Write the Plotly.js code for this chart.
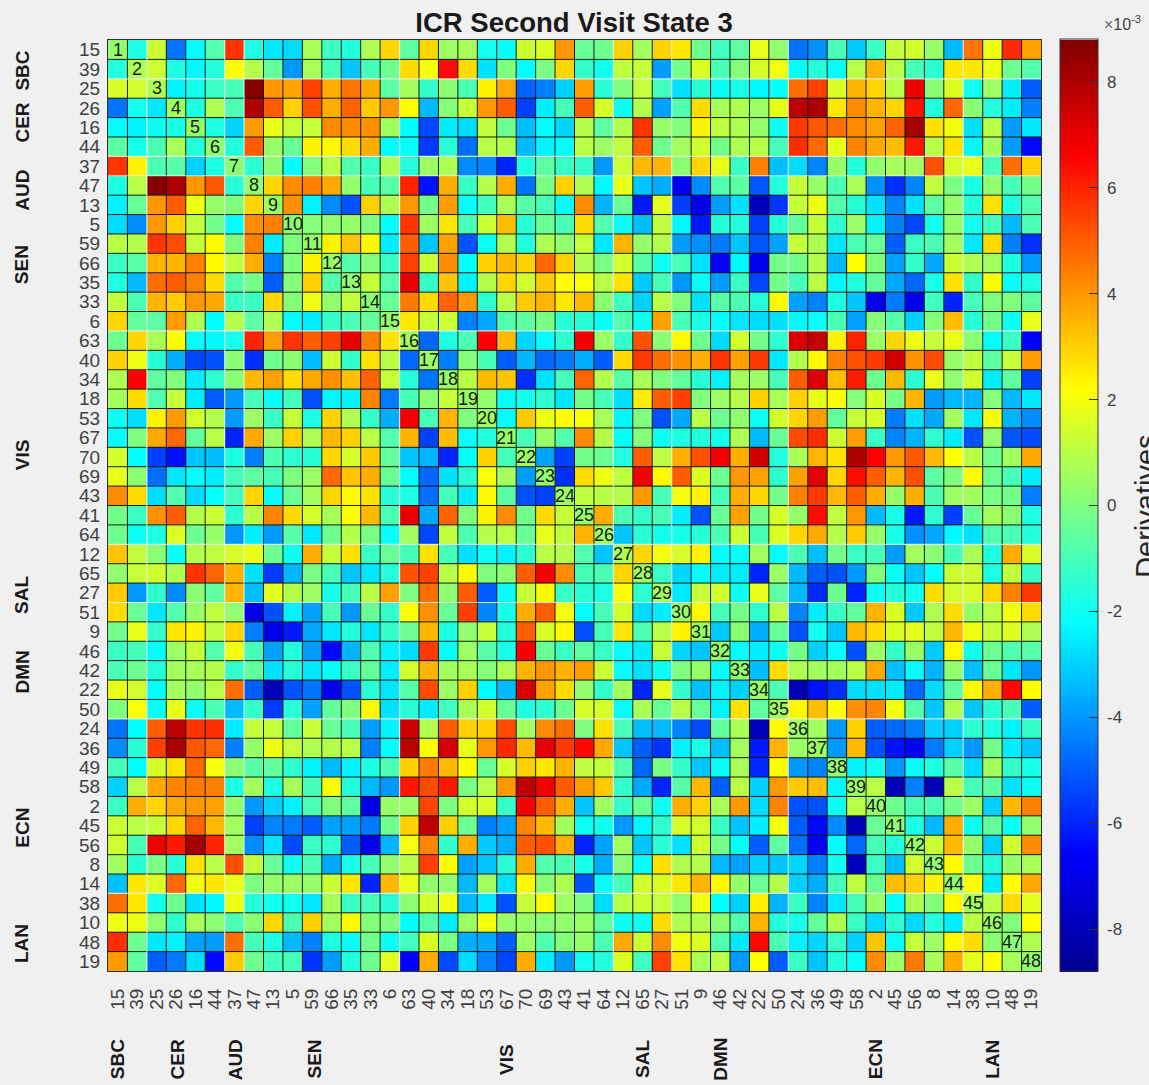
<!DOCTYPE html>
<html>
<head>
<meta charset="utf-8">
<script src="https://cdn.plot.ly/plotly-3.0.1.min.js"></script>
<style>html,body{margin:0;padding:0;background:#f0f0f0;overflow:hidden}</style>
</head>
<body>
<div id="chart" style="width:1149px;height:1085px"></div>
<script>
const roiLabels = [15,39,25,26,16,44,37,47,13,5,59,66,35,33,6,63,40,34,18,53,67,70,69,43,41,64,12,65,27,51,9,46,42,22,50,24,36,49,58,2,45,56,8,14,38,10,48,19];
const moduleEnds = [2,6,7,15,26,29,35,44];
const moduleNames = ["SBC","CER","AUD","SEN","VIS","SAL","DMN","ECN","LAN"];
const moduleLeftPos = [2.07,4.75,8.26,12.1,21.9,29.1,33.1,41.1,47.1];
const moduleBottomPos = [1.0,4.05,7.08,11.1,21,28,32,40,46];

const row01 = [0.3,-1.7,1.3,-4.6,-2.2,-0.8,5.7,-1.7,-2.6,-2.8,0.7,-1.2,-1.6,0.8,2.9,-0.6, 2.9,0.5,0.7,-1.9,-2.1,1.3,1.6,4,-0.4,-0.3,3,0.6,3,2.6,-0.3,-1.1, -0.6,1.8,0.3,-4.6,-4.1,-1,-3.1,-1.2,1.2,1.4,0.4,-3.4,4.6,1.9,5.9,3.8];
const row02 = [-1.6,0.8,1.3,-1.7,-2.3,-1.6,2.2,0.9,-0.5,-4,0.7,-1,-3.2,-1,-0.3,2.8, 2.1,6.4,2.8,-2.7,0,-2.2,-0.1,2.9,-1.3,-1.9,1.1,1.2,-3.9,-0.2,1.6,-0.9, 0.1,1.5,2,-2.2,-1.5,-2.2,1,3.5,1,-1,-1.5,2.6,2.6,1.9,-0.3,-0.8];
const row03 = [1.5,1.4,0.8,-2.4,-1.9,-1.2,-1,8.7,4,3.8,5.5,3.6,4.6,3.6,-0.6,0.6, -1.3,0.2,-0.9,2.4,3.7,-4.9,-4.4,-3,3.9,-1.5,0,1.2,-1.1,-2.7,-1.5,-2.1, -1.8,-2.3,-2.1,4.7,5.5,1.6,3.5,2.9,1,6.9,0.2,1.6,-1.9,0.5,-2.5,-5];
const row04 = [-4.6,-1.9,-2.6,0.5,-1.7,0.8,-0.9,8,5,3,5.2,3.6,4.9,3.1,4,2.2, -3.4,0.1,1.2,4,5,-5.5,-2.5,-1,5,1.5,-2,0.9,-3.8,-0.8,2.8,0.7, 0.8,0.5,1.8,7.8,8,2.6,4.2,3.5,2.9,6.3,-1.6,4.8,0.2,-1.6,-2.5,-4.4];
const row05 = [-2.2,-2.4,-2,-1.8,0.4,-1.7,-2.9,3.9,1.8,1.2,1.2,4.2,4.2,4.1,0.6,-2.2, -5.4,-2.5,-2.8,1.1,-0.3,-3.3,-2.2,-2.9,0.9,-0.6,0.9,5.7,0.4,0,2.4,1.1, 0.8,0.4,-2,5.6,5.1,4.7,4.2,3.8,4.9,8.2,2.7,2,-2.7,1,-3.9,-2.6];
const row06 = [-0.6,-1.8,-0.9,0.7,-1.6,0.3,-1.6,5,0.4,-0.4,2.4,2.3,2.8,3.6,-2.2,-2.1, -5.6,-1.5,-4.7,1,0.9,-3.4,-2.4,-2.2,1,0.5,1.1,5,-0.3,0.6,1.4,-0.2, 0.8,1,-1,5.8,4.8,1.8,4.3,3.7,3.3,6.2,1,2.7,-2.3,0.6,-3.9,-6.5];
const row07 = [5.7,2.4,-0.9,-0.7,-3,-1.7,0.2,-1.4,0.2,-2.2,0.1,1,-0.8,-1.2,0.8,-1.6, 0.5,0.8,-4.2,-4.3,-6,-1.7,-0.6,-1.2,-1.3,-4,1.3,3.4,3.5,0.2,2.9,1.8, -1.2,4.4,-3.3,-2.8,-4.3,0.4,-1.6,0.3,0.7,0.6,5.2,1.5,1.8,-1,4.7,3];
const row08 = [-1.7,1,8.7,8,4,5.1,-1.5,0.3,2.9,4.2,4.4,3.7,0.3,-1,-0.7,6, -6.3,3.6,-1.2,0.9,3.6,-4.6,-0.1,3,0.8,-2.3,1.8,-3.2,-3.6,-7,-4.2,-0.8, -0.6,-5.1,-1.6,1.2,0.4,-0.9,0.7,-4.1,-5.8,-4.3,1.1,-0.1,-1.7,0.3,-1,-0.2];
const row09 = [-2.4,-0.4,4,5,1.9,0.4,0,2.9,0.5,4.1,-2.4,-4.2,-5.2,3,0.8,4, -0.2,3.9,-2.2,-1.1,0.7,-0.7,-1,-2.2,4.2,-3.5,-0.4,-6.2,1.7,-5.5,-7,-3.9, -2.7,-8,-5.7,1.2,1.9,-0.8,-1.5,-2.7,-4.3,-2.7,-0.6,0.4,-1.6,2.7,-1.7,-0.8];
const row10 = [-2.8,-4.2,4,3,1.2,-0.2,-2.2,4.2,4.4,0.2,0.1,0.3,0.4,0,-2.2,5.7, 0.5,2.6,-1,1.3,3.3,-1.5,-0.4,-0.9,2.8,-0.8,-2,-3.3,1.1,-2.3,-6.2,-1.6, -1.6,-5.5,-1.6,-0.5,1.2,-1.4,0.5,-2.4,-4.4,-5.4,-1.9,0.4,-1.9,-1,-3.4,-0.9];
const row11 = [1,0.9,5.7,5.3,1.2,2.3,0,4.4,-2.5,0,0.4,2.4,3.2,2.3,-2.5,5, -3.2,3.8,-5.2,-2,0.9,-1.6,0.8,0.3,1.2,-2.6,3.5,0.4,0.9,-3.9,-4.1,-4.5, -3.2,-5.1,-3.8,1.2,0.8,-2.6,-0.9,-0.4,-5,-1.2,-0.9,0.6,-2.6,2.8,-4.4,-5.8];
const row12 = [-1.2,-0.7,3.5,3.5,4.4,2.3,1.1,3.6,-4.4,0,2.4,0.4,-0.8,0.1,-1.2,5.5, 1.3,4.2,-2.2,3,3.4,3,4.8,3,0.8,-0.1,1.4,-0.7,-2,-1,-2.7,-6.8, -2.3,-7,-0.2,-0.2,0.9,-3.4,2.2,0,-3.8,-1.3,-3.7,1.3,0.8,0.6,-1.7,-4];
const row13 = [-1.7,-3.4,4.7,5,4.4,2.8,-0.8,-0.2,-5,0.1,3,-0.8,0.3,1.2,-0.8,7, -1.3,3.2,-2.4,0.9,2.9,1.4,3.1,2.2,2.1,1,2.7,-3.1,-1,-4,-2.1,-3.9, -1.2,-5.4,-0.2,-1,1,-2.3,-1.6,-0.5,-3.7,-4.8,-1.8,2.7,-1.3,2.2,-2.1,-1.7];
const row14 = [1.1,-0.9,3.5,3.1,4,3.7,-1.2,-1.2,2.9,0.1,1.9,0.3,1.2,0.2,-0.4,4.5, 2.8,4.9,4,-1.4,1,3.1,3.5,2.6,3.4,0.2,-1.1,-3,1,0,-2.7,-0.7, -0.9,-1.6,2.3,-3.8,-4.4,-1.7,-3.2,-7,-4.5,-7,-1.1,-6,-1,0,0,-0.6];
const row15 = [2.9,-0.5,-0.6,3.9,0.8,-2.2,0.9,-0.6,0.8,-2.2,-2.5,-1.3,-0.9,-0.5,0.4,2.6, 1.2,1.3,-4.4,-3.7,-0.8,-0.6,-0.1,-1.5,-1.5,-2.1,-0.8,-2,3.8,-1,-1.8,-2.2, -2.6,-2.8,-2.7,-2.3,-2.1,-0.9,-3.8,0.1,-0.7,-3,0.1,3.3,-1.5,-0.2,-2,1.8];
const row16 = [-0.3,2.9,0.7,2.2,-2.2,-2.3,-1.8,6,3.9,5.7,5,5.5,7,4.4,2.7,0.6, -4.8,-1.7,-0.9,6.6,3.4,-2.9,-2.2,-1.4,6.8,0.5,-1.3,5.2,0.2,2.3,-0.3,-2.8, 1.4,-0.2,-1.4,7.2,7.6,2.4,6,0.5,2.9,1.9,1.2,1.8,0.2,-2.2,-1.2,-6.6];
const row17 = [3,1.9,-1.5,-3.6,-5.4,-5.2,0.2,-5.8,-0.3,0.2,-3.3,1.3,-1.3,2.7,1,-4.8, 0.5,-4.4,0.1,-1,-5,-3.5,-4.8,-4.5,-3.6,-5,2.8,5.6,4.7,4.1,3.6,5.7, 3.8,5.6,-2.6,0.9,2.3,4.4,5.2,5.6,7.4,4.1,5.3,0.4,1.1,-0.6,1.2,3.9];
const row18 = [0.8,6.6,-0.6,0,-2.5,-1.4,0.2,3.4,3.8,2.8,3.7,4.1,3.3,4.9,1.2,-1.6, -4.6,0.4,1,3.4,3.2,-5.8,-2.7,-1,4.9,0.9,-0.7,0.7,0,-0.5,-1.5,-2.4, 0.6,0.5,-1,5,7.2,3.3,6.1,-0.3,3.4,-1.4,1.8,0.3,1.4,-2.5,-0.6,-5.5];
const row19 = [0.6,2.8,-0.8,1.2,-2.5,-5,-4,-1,-2.1,-1,-5.2,-2.3,-2.4,4.3,-4.5,-1, 0.2,1.2,0.4,0.3,-2.2,-1.9,-1.4,-2.6,-0.2,-1,-2.7,2.5,5,5.5,0,0.5, 0.9,3,0.7,3,1.8,2.2,0.1,1.5,-0.1,3.5,-3.9,-3.4,-3.5,0.1,-3.4,-2.6];
const row20 = [-2,-2.8,2.4,3.9,1.4,0.9,-3.9,0.5,-1.2,1.2,-1.7,3,0.8,-1.3,-3.6,6.8, -1,3.5,0,0.5,-2.2,3.1,1.9,2.2,2.1,0.7,-2.3,0,-5.2,-3.7,1,-0.3, 0.3,-2,1.4,2.9,3.9,-0.5,1.2,1.5,-4.5,-2.7,-3.7,0.6,-2.6,2,-3.5,-4.2];
const row21 = [-2.2,0,3.7,4.8,-0.5,1,-6,3.7,0.5,3,0.8,3.4,3,1,-0.8,3.5, -5.5,3.3,-2.1,-1.6,0.4,-1,0.4,-0.8,4.2,0.9,-2.2,0.1,-2,-1.7,-1.6,-1.9, 0.8,-3.4,-0.4,5.3,5.8,1.3,3.9,-1.2,-4.3,-3.5,-1.4,-2.5,-5.2,0.3,-5.1,-5.3];
const row22 = [1.5,-2.2,-5.5,-6.3,-3.2,-3.3,-1.7,-4.4,-0.9,-1.4,-1.5,2.9,1.5,3.1,-0.5,-3.2, -3.5,-6,-2.1,3,-1,0.5,-3.8,-5.5,-0.2,-0.4,-1.6,5,1.1,3.6,5.2,6.7, 3.6,7.4,-1.6,0.7,3.5,2.7,8,6.6,4,5.1,3.4,2.2,1,-0.3,0.6,3.7];
const row23 = [1.8,0.2,-4.7,-2.6,-2.2,-2.5,-1,-0.6,-1,0,0.5,4.8,3.2,3.6,-0.4,-2.2, -4.8,-2.7,-1.5,2.1,0.6,-3.9,0.3,-5.8,2.8,1.9,1.1,6.8,2.3,5,1.6,-0.3, 4,3.8,-1.4,3.8,7.1,2.9,6.4,5,3.5,5.2,-0.6,0,2.2,-0.3,-1,-2.5];
const row24 = [4.2,2.8,-2.8,-0.8,-2.8,-2.1,-1,2.9,-2.2,-0.4,0.6,2.9,2.3,2.7,-1.5,-1.7, -4.7,-1,-2.5,2.3,-0.7,-5.2,-5.5,0.5,1.1,1,0.9,4,-1,2,2.4,-1, 3.6,2.9,-0.2,4.4,5.6,3.4,5,3.6,0.4,3.6,-0.9,0.5,0.6,-0.1,-0.2,-4.4];
const row25 = [-0.2,-1.2,4.1,5,0.9,1.3,-1.4,1,4.3,2.8,1.5,0.7,2.2,3.4,-0.9,7, -3.7,4.9,0,2.4,4.2,-0.2,2.8,1.2,0.4,3.6,-0.9,-1.3,-1,-2.5,-5.2,-0.4, 3.8,-0.2,1.5,0.4,6.4,1.1,4,-3.4,-1.8,-6.2,-1.4,-5.5,-0.4,0.6,0.2,-1.7];
const row26 = [-0.3,-2,-1.7,1.6,-0.3,0.4,-4,-2.5,-3.9,-0.7,-2.6,-0.3,0.9,-0.1,-2.1,0.6, -5.4,1.1,-0.9,0.9,1,-0.4,1.8,1.1,3.5,0.5,-3.2,-1.5,-1.9,-1.8,-1.5,-0.9, 1.3,-1,1.6,2.9,3.7,0.9,3.1,0.4,-1.8,-4.1,-3.7,-2.3,-2.7,-0.8,-0.9,-1.6];
const row27 = [3.2,1.1,0.2,-2.1,0.9,1.1,1.5,1.8,-0.3,-2,3.6,1.2,2.7,-1.2,-0.4,-1, 2.7,-1,-2.7,-2,-2.4,-1.4,1,0.9,-0.8,-3.2,0.8,2.9,2,1.5,2.4,-2.2, -2.1,0.6,-2.2,-0.9,-3.3,-0.2,-1.2,-1,-3.9,0.6,0.2,-1,0.7,-1.7,3.6,1.5];
const row28 = [0.3,1.2,1.4,0.8,5.7,4.9,3.5,-2.7,-5.6,-3.5,-0.1,-1,-3.2,-2.6,-1.6,5.2, 5.5,1,2.3,0,0.2,5,6.7,4.2,-1,-0.9,2.9,0.5,-1.2,-2.9,-2.2,-2.5, -2.5,-6,0.5,-3.4,-5,-5.2,-4,0,-2.1,-3.2,-2.2,1.3,1.3,-1.7,1.1,-1.3];
const row29 = [3.1,-4,-1.4,-4.2,0.2,-0.6,3.5,-3.3,1.7,0.9,0.5,-1.8,-1,1,3.8,0, 4.7,0.3,5,-5,-2.1,1.2,2.3,-1.2,-1.5,-1.7,2.2,-1.4,0.6,-2.6,1.2,1.4, -2,1.8,-0.6,-3.4,-5.9,-0.3,-6,-2,-1.6,-1.9,2.8,1.4,1.5,2.9,4.4,5.6];
const row30 = [2.8,-0.4,-2.6,-0.8,0.4,1.1,0.3,-7,-5.2,-2.4,-3.8,-1,-4,-0.4,-1.3,2.1, 4.1,-0.4,5.5,-4.3,-1.8,3.6,5,2,-2.2,-1,1.4,-2.8,-2.5,0.4,2.3,-1, -0.2,-1.4,1,-4.3,-2.5,-1.2,-0.5,3.5,1.6,-3.1,0.8,2.8,0.4,1,2,2.8];
const row31 = [-0.2,1.8,-1.3,2.6,2.4,1.1,2.9,-4.4,-7,-6.2,-3.7,-2.6,-1.6,-2.6,-1.3,-0.3, 3.5,-1.7,0.3,1.2,-1.6,5,1.5,2.3,-5.2,-1,2.6,-0.9,1,2.4,0.4,-3.1, 0.2,-3.6,-0.4,-5.2,-1.9,-3.2,3.4,2.8,1.6,1.7,1.1,3.4,1.9,1.2,1.6,0.8];
const row32 = [-1.2,-1,-2.2,0.5,1.2,-0.8,1.9,-1,-3.8,-1.6,-3.9,-6.5,-3.5,-0.8,-2.4,-2.8, 5.6,-2.1,0.5,-0.7,-1.8,6.7,-0.4,-1.2,-0.6,-1.2,-2.2,-2.5,1.2,-2.9,-3.2,0.4, -2.2,-2.5,-2,-0.2,-3,-2.2,-5.2,0.5,-1.3,0.4,-3.1,2.3,-1.9,-0.3,-0.8,-0.7];
const row33 = [-0.9,-0.3,-1.6,0.6,0.7,0.9,-1.3,-0.5,-2.7,-1.5,-2.6,-2.1,-1.2,-0.5,-2.5,1.4, 3.5,0.6,0.7,0.1,0.8,3.5,4,3.5,3.9,1.3,-2.2,-2.7,-2,0,0.4,-2.2, 0.3,-3.3,2.8,0.8,0.6,0.6,1,3.7,-3.3,-2.2,-3.5,0.3,-3.3,-0.4,-2.6,-4];
const row34 = [1.8,1.4,-2.2,0.6,0.3,1,4.7,-5,-8,-5.2,-4.6,-7,-5.2,-1.5,-2.6,-0.7, 5.3,0.5,3,-2.2,-3.4,7.3,3.8,2.8,0.3,-1.3,0.6,-6,1.7,-1.3,-3.3,-2.4, -3,0.4,-0.9,-8,-6.3,-5.8,-2.8,-2.7,-2.5,-4.8,-2.8,-0.5,2.3,3.6,6.5,2.2];
const row35 = [0,2.1,-2.1,1.8,-2.1,-0.9,-3.4,-1.3,-5.6,-1.5,-3.8,-0.5,0,2.3,-2.7,-1.5, -2.5,-1.1,0.7,1.4,-0.4,-1.7,-1.4,-0.3,1.5,1.5,-2.2,0.7,-0.4,1,-0.4,-2.4, 2.7,-0.6,0.6,2.3,3.3,2.2,4.1,4.3,2,-0.7,-3.2,0.8,-3.2,-1.5,-1,-5];
const row36 = [-4.6,-2.2,5,7.8,5.7,5.8,-2.5,1.2,1.2,-0.5,1.2,-0.4,-1,-3.9,-2.4,7.4, 0.9,5,3,3,5.3,0.6,4.2,4.7,0,2.7,-1,-3.3,-3.4,-4.3,-5.3,-0.5, 0.7,-8,2.3,0.5,0.6,-4,3,-5,-4.8,-4.4,-3,-3,-1.4,-1.7,-2.4,-1.3];
const row37 = [-4.2,-1.5,5.5,8,5.1,4.8,-4.4,0.4,1.9,1.2,0.8,0.9,1,-4.4,-2.2,7.8, 2.2,7.3,1.8,4,5.9,3.4,7,5.6,6.5,3.7,-3.2,-5,-5.7,-2.4,-1.8,-3.3, 0.6,-6.2,3.5,0.5,0.5,-4,3.4,-5.2,-6.3,-6.6,-4.5,-3,-4,-0.2,-2.5,-3.2];
const row38 = [-1,-2.2,1.5,2.7,4.8,2,0.2,-0.7,-0.5,-1.4,-2.4,-3.4,-2.4,-1.7,-0.9,3, 4.5,3.4,2.2,-0.4,1.5,3,2.6,3.5,1.1,1.2,-0.8,-4.8,-0.1,-1.3,-3.2,-2.1, 0.7,-5.9,2.2,-4,-4.3,0.3,-2.4,-1.9,-4,-2.1,-1.7,-0.7,-2.8,0.6,-1.3,-1.8];
const row39 = [-3,1,3.7,4.3,4.5,4.4,-1.7,0.6,-1.7,0.7,-1,2.2,-1.6,-3.4,-4,6.2, 5.3,6.2,-0.1,1,4,7.7,6.8,5,3.9,3.1,-1.3,-3.7,-6,-0.7,3.4,-5, 1,-3,4,3.1,3.3,-2.3,0.5,1,-8,-4.4,-8,1,-1,-0.6,-2.7,-2];
const row40 = [-1.2,3.6,2.9,3.7,4,3.8,0.3,-4,-3,-2.4,-0.9,0,-0.6,-7,0.4,0.5, 5.4,0,1.4,1.5,-1.3,6.7,5,3.6,-3.2,0.5,-1.3,-0.4,-2,3.6,3,0.7, 4,-2.8,4.3,-5.2,-5.2,-2,1,0.3,-0.3,-1,-1,-0.2,0.5,-3,3.4,4.4];
const row41 = [1.3,1,1.2,2.9,4.9,3.4,0.6,-5.5,-4.3,-4.5,-5,-3.8,-3.8,-4.5,-0.3,3, 7.7,3,-0.3,-4.4,-3.8,4.3,3.4,0.6,-2,-1.9,-4,-2.3,-1.4,1.5,1.4,-1.2, -3.2,-2.5,2,-5,-6.5,-4.2,-8,-0.4,0.3,-1.7,-3.4,3.6,-2,-0.5,-2,0.3];
const row42 = [1.4,-1,6.9,6.2,8.2,6,0.6,-4.2,-2.7,-5.3,-1.2,-1.4,-5,-7,-3.5,2, 4.3,-1.3,3.6,-3.1,-3.6,5,5.2,3.6,-6,-3.8,0.6,-3.2,-1.5,-2.7,1.4,-0.2, -2.2,-5,-0.6,-4.7,-6.8,-2.2,-4.8,-1,-1.6,0.4,1.3,3.4,0.4,-3,1.4,4.2];
const row43 = [0.6,-1.5,-0.1,-1.5,2.7,1,5.2,1.1,-0.4,-1.9,-0.9,-3.7,-1.8,-1,0.3,1, 5.5,2.2,-3.8,-3.2,-1.5,3.6,-0.8,-0.9,-1.8,-3.6,0.2,-2.2,2.7,0.8,0.9,-3.4, -3.8,-3,-3.2,-2.9,-4.4,-2,-8,-1.2,-3.3,1.4,0.3,2.3,-0.3,-1.6,0.4,0.7];
const row44 = [-3.3,2.6,1.6,4.8,2,2.6,1.8,0,0.4,0.5,0.4,1.3,2.6,-6,3.4,1.8, 0.3,0.3,-3.4,0.6,-2.7,2.3,0.2,0.8,-5.2,-2.1,-1,1.4,1.6,2.6,3.5,2.3, 0.4,-0.4,0.9,-3,-3.6,-1,1.1,-0.3,3.3,3,2.4,0.3,2.2,-2.5,2.2,3.7];
const row45 = [4.7,2.6,-1.9,-0.3,-2.7,-2.3,1.9,-1.6,-1.9,-1.9,-2.6,0.7,-1.2,-1,-1.5,0.2, 1.4,1.9,-3.4,-2.6,-5.2,1.2,2.3,0.5,0,-2.8,1,1.3,1.2,0.3,2,-2.2, -3,2.5,-3.5,-1.2,-4.3,-2.6,-1,0.4,-2.2,0.8,0,2.3,0.6,1,2.8,1.7];
const row46 = [1.9,1.9,0.3,-1.4,0.7,0.2,-0.9,0.2,2.9,-0.9,3,0.6,2.3,0.1,0,-2.2, -0.7,-2.5,0.5,2,0.4,0.4,0.2,0.3,0.5,-0.5,-2,-2,2.8,0.8,0.9,0.2, -0.8,3.5,-1.6,-1.8,-0.5,0.8,-1.2,-2.8,-1.4,-2.8,-1.6,-2.5,1,0.4,0.1,2.2];
const row47 = [5.8,-0.3,-2.6,-2.4,-3.8,-3.9,4.7,-1,-1.7,-3.4,-4.4,-1.7,-2.1,-0.2,-2,-1.1, 1.6,-0.1,-3.6,-3.7,-5,0.5,-0.8,0.1,0.4,-0.9,3.7,1.3,4.2,1.9,1.6,-0.8, -2.6,6.5,-0.9,-2.4,-2.9,-1.2,-3,3.2,-2.1,1.2,0.5,2.3,2.8,0.2,0.2,0.8];
const row48 = [3.9,-0.6,-5,-4.5,-2.7,-6.5,3.1,-0.3,-1.1,-1,-5.7,-3.9,-1.6,-0.3,1.7,-6.6, 3.6,-5.3,-2.8,-4.3,-5.4,3.6,-2.5,-4,-1.9,-1.6,1.6,-1.1,5.5,2.7,0.7,1, -3.9,2.2,-5,-1.2,-3.2,-1.6,-2.1,4.2,0.5,4.5,0.7,3.6,1.7,2.2,0.7,0.3];

const z = [row01,row02,row03,row04,row05,row06,row07,row08,row09,row10,row11,row12,row13,row14,row15,row16,row17,row18,row19,row20,row21,row22,row23,row24,row25,row26,row27,row28,row29,row30,row31,row32,row33,row34,row35,row36,row37,row38,row39,row40,row41,row42,row43,row44,row45,row46,row47,row48];

const n = roiLabels.length;
const idx = roiLabels.map((_, i) => i + 1);
const jet = [[0,'rgb(0,0,143)'],[0.125,'rgb(0,0,255)'],[0.375,'rgb(0,255,255)'],[0.625,'rgb(255,255,0)'],[0.875,'rgb(255,0,0)'],[1,'rgb(128,0,0)']];
const font = 'Liberation Sans, Arial, sans-serif';

const shapes = [];
for (let k = 1; k < n; k++) {
  if (moduleEnds.includes(k)) continue;
  const line = {color:'rgba(10,20,10,0.95)', width:1};
  shapes.push({type:'line', xref:'x', yref:'paper', x0:k+0.5, x1:k+0.5, y0:0, y1:1, line});
  shapes.push({type:'line', xref:'paper', yref:'y', y0:k+0.5, y1:k+0.5, x0:0, x1:1, line});
}
moduleEnds.forEach(k => {
  const line = {color:'rgba(235,240,235,0.85)', width:1.2};
  shapes.push({type:'line', xref:'x', yref:'paper', x0:k+0.5, x1:k+0.5, y0:0, y1:1, line});
  shapes.push({type:'line', xref:'paper', yref:'y', y0:k+0.5, y1:k+0.5, x0:0, x1:1, line});
});

const annotations = [];
idx.forEach(i => annotations.push({x:i, y:i, xref:'x', yref:'y', text:String(i), showarrow:false,
  font:{family:font, size:18, color:'#1a1a1a'}, xanchor:'center', yanchor:'middle'}));
moduleNames.forEach((name, i) => {
  annotations.push({xref:'paper', yref:'y', x:-0.092, y:moduleLeftPos[i], text:'<b>'+name+'</b>', textangle:-90, showarrow:false,
    font:{family:font, size:19, color:'#1a1a1a'}, xanchor:'center', yanchor:'middle'});
  annotations.push({xref:'x', yref:'paper', x:moduleBottomPos[i], y:-0.095, text:'<b>'+name+'</b>', textangle:-90, showarrow:false,
    font:{family:font, size:19, color:'#1a1a1a'}, xanchor:'center', yanchor:'middle'});
});
annotations.push({xref:'paper', yref:'paper', x:1.0873, y:1.0185, text:'<span style="color:#666">×</span>10<sup>-3</sup>', showarrow:false,
  font:{family:font, size:16, color:'#404040'}, xanchor:'center', yanchor:'middle'});
annotations.push({xref:'paper', yref:'paper', x:1.113, y:0.499, text:'Derivatives', textangle:-90, showarrow:false,
  font:{family:font, size:29, color:'#262626'}, xanchor:'center', yanchor:'middle'});

const pad = '\u00a0';
const trace = {type:'heatmap', x:idx, y:idx, z:z, zmin:-8.8, zmax:8.8, colorscale:jet,
  colorbar:{x:1.0209, xanchor:'left', y:0.5, yanchor:'middle', len:932, lenmode:'pixels', thickness:38, thicknessmode:'pixels',
    xpad:0, ypad:0, outlinewidth:1, outlinecolor:'#333', ticks:'inside', ticklen:9, tickcolor:'#333',
    tickvals:[-8,-6,-4,-2,0,2,4,6,8], ticktext:['-8','-6','-4','-2','0','2','4','6','8'].map(t => pad + t),
    tickfont:{family:font, size:17, color:'#404040'}}};

const layout = {
  width:1149, height:1085,
  margin:{l:108, r:107.5, t:39.5, b:113.5, pad:0},
  paper_bgcolor:'#f0f0f0', plot_bgcolor:'#f0f0f0',
  title:{text:'<b>ICR Second Visit State 3</b>', x:574/1149, xanchor:'center', y:1-22/1085, yanchor:'middle',
    font:{family:font, size:27.5, color:'#1a1a1a'}},
  xaxis:{range:[0.5,48.5], tickvals:idx, ticktext:roiLabels.map(String), tickangle:-90, ticks:'', showgrid:false, zeroline:false,
    showline:true, linecolor:'#333', linewidth:1, mirror:true, ticklabelstandoff:9,
    tickfont:{family:font, size:19, color:'#404040'}},
  yaxis:{range:[48.5,0.5], tickvals:idx, ticktext:roiLabels.map(String), ticks:'', showgrid:false, zeroline:false,
    showline:true, linecolor:'#333', linewidth:1, mirror:true, ticklabelstandoff:3,
    tickfont:{family:font, size:19, color:'#404040'}},
  shapes, annotations
};
Plotly.newPlot('chart', [trace], layout, {displayModeBar:false, responsive:false});
</script>
</body>
</html>
